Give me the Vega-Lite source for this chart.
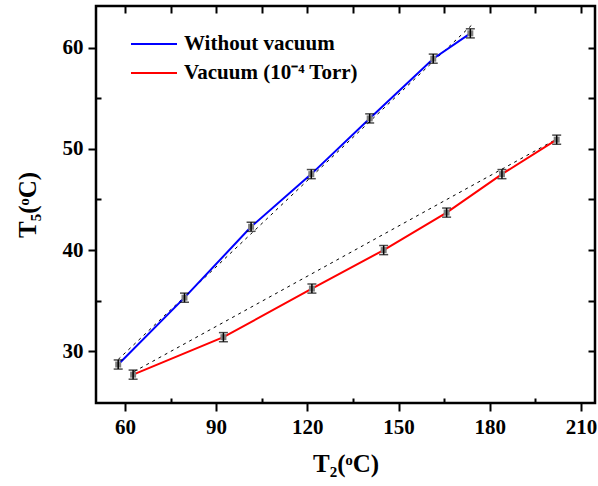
{
  "$schema": "https://vega.github.io/schema/vega-lite/v6.json",
  "width": 499,
  "height": 397,
  "autosize": {"type": "none"},
  "padding": {"left": 96, "top": 6, "right": 3, "bottom": 83},
  "background": "white",
  "config": {
    "view": {"stroke": "black", "strokeWidth": 2.5},
    "font": "Liberation Serif",
    "axis": {
      "grid": false,
      "domain": false,
      "tickColor": "black",
      "labelColor": "black",
      "titleColor": "black",
      "labelFont": "Liberation Serif",
      "titleFont": "Liberation Serif",
      "labelFontWeight": "bold",
      "titleFontWeight": "bold",
      "labelFontSize": 21,
      "titleFontSize": 25,
      "tickWidth": 2
    }
  },
  "datasets": {
    "pts": [
      {"series": "Without vacuum", "x": 57.8, "y": 28.7, "err": 0.45},
      {"series": "Without vacuum", "x": 79.6, "y": 35.3, "err": 0.45},
      {"series": "Without vacuum", "x": 101.5, "y": 42.3, "err": 0.45},
      {"series": "Without vacuum", "x": 121.3, "y": 47.5, "err": 0.45},
      {"series": "Without vacuum", "x": 140.5, "y": 53.0, "err": 0.45},
      {"series": "Without vacuum", "x": 161.4, "y": 58.9, "err": 0.45},
      {"series": "Without vacuum", "x": 173.6, "y": 61.4, "err": 0.45},
      {"series": "Vacuum (10⁻⁴ Torr)", "x": 62.7, "y": 27.7, "err": 0.45},
      {"series": "Vacuum (10⁻⁴ Torr)", "x": 92.4, "y": 31.4, "err": 0.45},
      {"series": "Vacuum (10⁻⁴ Torr)", "x": 121.5, "y": 36.2, "err": 0.45},
      {"series": "Vacuum (10⁻⁴ Torr)", "x": 145.1, "y": 40.0, "err": 0.45},
      {"series": "Vacuum (10⁻⁴ Torr)", "x": 165.8, "y": 43.7, "err": 0.45},
      {"series": "Vacuum (10⁻⁴ Torr)", "x": 184.0, "y": 47.5, "err": 0.45},
      {"series": "Vacuum (10⁻⁴ Torr)", "x": 202.0, "y": 50.9, "err": 0.45}
    ],
    "fits": [
      {"fit": "A", "x": 57.8, "y": 29.2},
      {"fit": "A", "x": 174.0, "y": 62.2},
      {"fit": "B", "x": 63.0, "y": 28.0},
      {"fit": "B", "x": 201.0, "y": 50.8}
    ]
  },
  "layer": [
    {
      "data": {"name": "fits"},
      "mark": {"type": "line", "color": "black", "strokeWidth": 1, "strokeDash": [3, 4]},
      "encoding": {
        "x": {"field": "x", "type": "quantitative", "scale": {"domain": [50.5, 214.6], "nice": false, "zero": false},
          "axis": {"orient": "bottom", "values": [75, 105, 135, 165, 195], "tickSize": -5, "labels": false, "title": null}},
        "y": {"field": "y", "type": "quantitative", "scale": {"domain": [24.9, 64.1], "nice": false, "zero": false},
          "axis": {"orient": "left", "values": [35, 45, 55], "tickSize": -5, "labels": false, "title": null}},
        "detail": {"field": "fit"}
      }
    },
    {
      "data": {"name": "pts"},
      "mark": {"type": "line", "strokeWidth": 2},
      "encoding": {
        "x": {"field": "x", "type": "quantitative",
          "axis": {"orient": "bottom", "values": [60, 90, 120, 150, 180, 210], "tickSize": 8, "labelPadding": 5, "title": "T₂(ᵒC)", "titlePadding": 14}},
        "y": {"field": "y", "type": "quantitative",
          "axis": {"orient": "left", "values": [30, 40, 50, 60], "tickSize": 8, "labelPadding": 5, "title": "T₅(ᵒC)", "titlePadding": 22}},
        "color": {"field": "series", "type": "nominal",
          "scale": {"domain": ["Without vacuum", "Vacuum (10⁻⁴ Torr)"], "range": ["#0000ff", "#ff0000"]},
          "legend": {"title": null, "orient": "none", "legendX": 34, "legendY": 24, "padding": 0,
            "symbolType": "stroke", "symbolSize": 2116, "symbolStrokeWidth": 2,
            "labelFont": "Liberation Serif", "labelFontWeight": "bold", "labelFontSize": 21,
            "labelColor": "black", "labelOffset": 6, "labelLimit": 400, "rowPadding": 1, "clipHeight": 28}}
      }
    },
    {
      "data": {"name": "pts"},
      "mark": {"type": "point", "shape": "square", "filled": true, "color": "#7f7f7f", "size": 36, "opacity": 1},
      "encoding": {
        "x": {"field": "x", "type": "quantitative",
          "axis": {"orient": "top", "values": [60, 75, 90, 105, 120, 135, 150, 165, 180, 195, 210], "tickSize": -7, "labels": false, "title": null}},
        "y": {"field": "y", "type": "quantitative",
          "axis": {"orient": "right", "values": [30, 35, 40, 45, 50, 55, 60], "tickSize": -7, "labels": false, "title": null}}
      }
    },
    {
      "data": {"name": "pts"},
      "mark": {"type": "errorbar", "color": "black", "ticks": {"size": 9, "thickness": 1.5, "color": "black"}, "rule": {"strokeWidth": 1.5, "color": "black"}},
      "encoding": {
        "x": {"field": "x", "type": "quantitative", "axis": null},
        "y": {"field": "y", "type": "quantitative", "axis": null},
        "yError": {"field": "err"}
      }
    }
  ],
  "resolve": {"axis": {"x": "independent", "y": "independent"}}
}
